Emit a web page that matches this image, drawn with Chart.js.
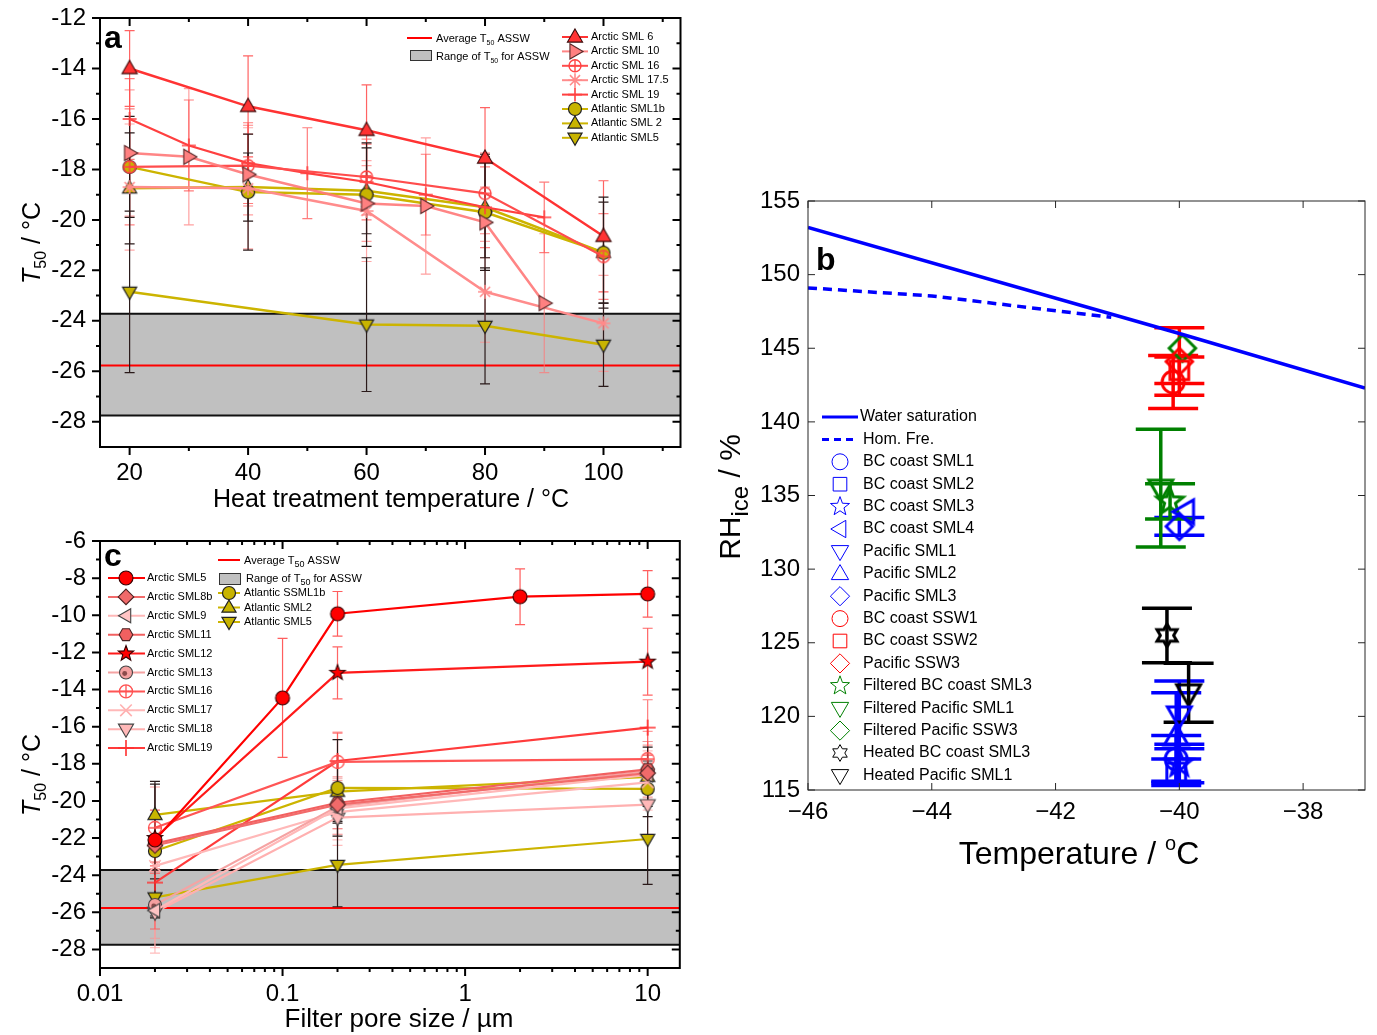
<!DOCTYPE html>
<html>
<head>
<meta charset="utf-8">
<script src="https://cdn.jsdelivr.net/npm/chart.js"></script>
<style>
html, body { margin: 0; padding: 0; background: #fff; }
#wrap { position: relative; width: 1377px; height: 1035px; overflow: hidden; }
#wrap canvas { position: absolute; }
</style>
</head>
<body>
<div id="wrap">
  <canvas id="chartA" width="690" height="520" style="left:0;top:0"></canvas>
  <canvas id="chartC" width="690" height="515" style="left:0;top:520px"></canvas>
  <canvas id="chartB" width="687" height="900" style="left:690px;top:0"></canvas>
</div>
<script>
const FONT = '"Liberation Sans", Arial, Helvetica, sans-serif';

// ---------- panel a : heat treatment ----------
const heatX = [20, 40, 60, 80, 100];
const heatX10 = [20, 30, 40, 60, 70, 80, 90];
const heatX19 = [20, 30, 40, 50, 60, 70, 80, 90];
const heatX5 = [20, 60, 80, 100];
const arcSml6 = [-14.0, -15.5, -16.45, -17.55, -20.65];
const arcSml6Err = [1.5, 2.0, 1.8, 2.0, 2.2];
const arcSml10 = [-17.35, -17.5, -18.2, -19.35, -19.45, -20.1, -23.3];
const arcSml10Err = [2.5, 2.7, 1.6, 1.5, 2.7, 1.4, 2.75];
const arcSml16 = [-17.9, -17.85, -18.3, -18.95, -21.45];
const arcSml16Err = [2.3, 1.6, 1.5, 1.6, 1.7];
const arcSml175 = [-18.7, -18.75, -19.65, -22.85, -24.1];
const arcSml175Err = [2.5, 2.4, 2.0, 2.0, 1.9];
const arcSml19 = [-16.0, -17.05, -17.75, -18.15, -18.5, -19.0, -19.5, -19.9];
const arcSml19Err = [1.6, 1.8, 1.6, 1.8, 1.5, 1.6, 1.6, 1.4];
const atlSml1b = [-17.9, -18.9, -19.0, -19.7, -21.3];
const atlSml1bErr = [2.0, 2.3, 2.05, 2.3, 2.0];
const atlSml2 = [-18.75, -18.7, -18.85, -19.5, -21.3];
const atlSml2Err = [2.2, 1.35, 1.7, 2.0, 2.2];
const atlSml5 = [-22.85, -24.15, -24.2, -24.95];
const atlSml5Err = [3.2, 2.65, 2.3, 1.65];
const aXTicks = [20, 40, 60, 80, 100];
const aYTicks = [-28, -26, -24, -22, -20, -18, -16, -14, -12];

// ---------- panel c : filtration ----------
const poreX = [0.02, 0.2, 10];
const poreX5 = [0.02, 0.1, 0.2, 2, 10];
const cSml5 = [-22.1, -14.45, -9.92, -9.0, -8.85];
const cSml5Err = [1.2, 3.2, 1.2, 1.5, 1.25];
const cSml8b = [-22.4, -20.2, -18.5];
const cSml8bErr = [1.5, 1.3, 1.5];
const cSml9 = [-25.9, -20.4, -18.6];
const cSml9Err = [2.0, 1.4, 1.3];
const cSml11 = [-22.3, -20.1, -18.3];
const cSml11Err = [1.6, 1.4, 1.5];
const cSml12 = [-22.0, -13.1, -12.5];
const cSml12Err = [1.5, 1.4, 1.8];
const cSml13 = [-25.6, -20.3, -18.4];
const cSml13Err = [1.8, 1.5, 1.6];
const cSml16 = [-21.45, -17.9, -17.75];
const cSml16Err = [2.2, 1.6, 1.5];
const cSml17 = [-23.5, -20.6, -19.0];
const cSml17Err = [2.5, 1.5, 1.5];
const cSml18 = [-26.0, -20.9, -20.2];
const cSml18Err = [2.2, 1.5, 1.6];
const cSml19 = [-24.4, -17.85, -16.05];
const cSml19Err = [2.5, 1.5, 1.5];
const cAtl1b = [-22.7, -19.3, -19.35];
const cAtl1bErr = [3.6, 2.6, 1.5];
const cAtl2 = [-20.75, -19.5, -18.7];
const cAtl2Err = [1.8, 1.6, 1.6];
const cAtl5 = [-25.2, -23.45, -22.05];
const cAtl5Err = [1.0, 2.25, 2.45];
const cXTicks = [0.01, 0.1, 1, 10];
const cYTicks = [-28, -26, -24, -22, -20, -18, -16, -14, -12, -10, -8, -6];

// ASSW reference values (panels a and c)
const asswAvg = -25.77;
const asswLow = -27.75;
const asswHigh = -23.72;

// ---------- panel b : RHice vs temperature ----------
const waterT = [-46, -40, -37];
const waterRH = [153.2, 146.0, 142.3];
const homT = [-46, -44, -41.1];
const homRH = [149.1, 148.55, 147.1];
const sampleNames = ['BC coast SML1', 'BC coast SML2', 'BC coast SML3', 'BC coast SML4',
  'Pacific SML1', 'Pacific SML2', 'Pacific SML3', 'BC coast SSW1', 'BC coast SSW2',
  'Pacific SSW3', 'Filtered BC coast SML3', 'Filtered Pacific SML1', 'Filtered Pacific SSW3',
  'Heated BC coast SML3', 'Heated Pacific SML1'];
const sampleT = [-40.05, -40.05, -40.0, -39.9, -40.0, -40.05, -40.0, -40.1, -40.0,
  -40.0, -40.15, -40.3, -39.95, -40.2, -39.85];
const sampleRH = [117.1, 116.2, 116.8, 133.9, 120.1, 118.6, 132.9, 142.7, 143.5,
  144.1, 134.6, 135.5, 145.0, 125.5, 121.6];
const sampleErr = [1.6, 0.9, 1.3, 0, 2.3, 3.0, 0.6, 1.8, 0.9, 2.3, 1.2, 4.0, 0, 1.85, 2.0];
const bXTicks = [-46, -44, -42, -40, -38];
const bYTicks = [115, 120, 125, 130, 135, 140, 145, 150, 155];

// marker styles for panel b (shape, colour)
const sampleShape = ['circle', 'square', 'star5', 'tri-left', 'tri-down', 'tri-up', 'diamond',
  'circle', 'square', 'diamond', 'star5', 'tri-down', 'diamond', 'hexagram', 'tri-down'];
const sampleColor = ['#0000FF', '#0000FF', '#0000FF', '#0000FF', '#0000FF', '#0000FF', '#0000FF',
  '#FF0000', '#FF0000', '#FF0000', '#008000', '#008000', '#008000', '#000000', '#000000'];

// ---------- drawing helpers ----------
function polyPath(g, x, y, n, r, rot) {
  for (let i = 0; i < n; i++) {
    const a = rot + i * 2 * Math.PI / n;
    const px = x + r * Math.cos(a), py = y + r * Math.sin(a);
    i ? g.lineTo(px, py) : g.moveTo(px, py);
  }
  g.closePath();
}
function starPath(g, x, y, n, ro, ri, rot) {
  for (let i = 0; i < 2 * n; i++) {
    const a = rot + i * Math.PI / n, rr = i % 2 ? ri : ro;
    const px = x + rr * Math.cos(a), py = y + rr * Math.sin(a);
    i ? g.lineTo(px, py) : g.moveTo(px, py);
  }
  g.closePath();
}
function drawMarker(g, m, x, y) {
  const r = m.r;
  g.save();
  g.lineWidth = m.lw || 1;
  g.strokeStyle = m.stroke;
  g.lineJoin = 'miter';
  g.beginPath();
  if (m.shape === 'plus' || m.shape === 'x' || m.shape === 'asterisk') {
    if (m.shape !== 'x') {
      g.moveTo(x - r, y); g.lineTo(x + r, y);
      g.moveTo(x, y - r); g.lineTo(x, y + r);
    }
    if (m.shape !== 'plus') {
      const d = r * 0.72;
      g.moveTo(x - d, y - d); g.lineTo(x + d, y + d);
      g.moveTo(x - d, y + d); g.lineTo(x + d, y - d);
    }
    g.stroke();
    g.restore();
    return;
  }
  switch (m.shape) {
    case 'square': g.rect(x - r * 0.85, y - r * 0.85, r * 1.7, r * 1.7); break;
    case 'diamond': polyPath(g, x, y, 4, r * 1.2, -Math.PI / 2); break;
    case 'tri-up': polyPath(g, x, y + r * 0.1, 3, r * 1.25, -Math.PI / 2); break;
    case 'tri-down': polyPath(g, x, y - r * 0.1, 3, r * 1.25, Math.PI / 2); break;
    case 'tri-left': polyPath(g, x + r * 0.1, y, 3, r * 1.25, Math.PI); break;
    case 'tri-right': polyPath(g, x - r * 0.1, y, 3, r * 1.25, 0); break;
    case 'hex': polyPath(g, x, y, 6, r * 1.05, 0); break;
    case 'star5': starPath(g, x, y, 5, r * 1.25, r * 0.52, -Math.PI / 2); break;
    case 'hexagram': starPath(g, x, y, 6, r * 1.05, r * 0.6, -Math.PI / 2); break;
    default: g.arc(x, y, r, 0, 2 * Math.PI);
  }
  if (m.fill) { g.fillStyle = m.fill; g.fill(); }
  g.stroke();
  if (m.shape === 'circplus') {
    g.beginPath();
    g.moveTo(x - r, y); g.lineTo(x + r, y);
    g.moveTo(x, y - r); g.lineTo(x, y + r);
    g.stroke();
  }
  if (m.shape === 'circdot') {
    g.beginPath();
    g.arc(x - r * 0.2, y + r * 0.15, r * 0.38, 0, 2 * Math.PI);
    g.fillStyle = '#8a4a4a';
    g.fill();
  }
  g.restore();
}
function markerImg(m) {
  const half = Math.ceil(m.r * 1.35 + (m.lw || 1) + 1);
  const c = document.createElement('canvas');
  c.width = c.height = half * 2;
  drawMarker(c.getContext('2d'), m, half, half);
  return c;
}
// text with sub/superscripts: parts [{t, s, dy, i, b}]
function rich(ctx, parts, x, y, align, rot) {
  ctx.save();
  ctx.translate(x, y);
  if (rot) ctx.rotate(rot);
  const fonts = parts.map(p => (p.i ? 'italic ' : '') + (p.b ? 'bold ' : '') + p.s + 'px ' + FONT);
  let w = 0;
  parts.forEach((p, k) => { ctx.font = fonts[k]; w += ctx.measureText(p.t).width; });
  let cx = align === 'left' ? 0 : -w / 2;
  ctx.fillStyle = '#000';
  ctx.textAlign = 'left';
  ctx.textBaseline = 'alphabetic';
  parts.forEach((p, k) => {
    ctx.font = fonts[k];
    ctx.fillText(p.t, cx, p.dy || 0);
    cx += ctx.measureText(p.t).width;
  });
  ctx.restore();
}
function hLine(ctx, x1, x2, y, color, w, dash) {
  ctx.save();
  ctx.strokeStyle = color; ctx.lineWidth = w;
  if (dash) ctx.setLineDash(dash);
  ctx.beginPath(); ctx.moveTo(x1, y); ctx.lineTo(x2, y); ctx.stroke();
  ctx.restore();
}
function label(ctx, txt, x, y, size) {
  ctx.save();
  ctx.font = size + 'px ' + FONT;
  ctx.fillStyle = '#000';
  ctx.textAlign = 'left';
  ctx.textBaseline = 'middle';
  ctx.fillText(txt, x, y);
  ctx.restore();
}

// ---------- plugins ----------
const bandPlugin = {
  id: 'asswBand',
  beforeDatasetsDraw(chart) {
    const { ctx, chartArea: ca } = chart;
    const y = chart.scales.y;
    const yTop = y.getPixelForValue(asswHigh), yBot = y.getPixelForValue(asswLow);
    const yAvg = y.getPixelForValue(asswAvg);
    ctx.save();
    ctx.fillStyle = '#C0C0C0';
    ctx.fillRect(ca.left, yTop, ca.right - ca.left, yBot - yTop);
    ctx.restore();
    hLine(ctx, ca.left, ca.right, yTop, '#111', 2);
    hLine(ctx, ca.left, ca.right, yBot, '#111', 2);
    hLine(ctx, ca.left, ca.right, yAvg, '#FF0000', 2);
  }
};

const errPlugin = {
  id: 'errBars',
  beforeDatasetsDraw(chart) {
    const ctx = chart.ctx, ys = chart.scales.y;
    chart.data.datasets.forEach((ds, i) => {
      if (!ds.err) return;
      const meta = chart.getDatasetMeta(i);
      ctx.save();
      ctx.strokeStyle = ds.errColor;
      ctx.lineWidth = ds.errWidth || 1.2;
      const c = ds.capW || 5;
      meta.data.forEach((pt, j) => {
        const e = ds.err[j];
        if (!e) return;
        const v = ds.data[j].y;
        const y1 = ys.getPixelForValue(v + e), y2 = ys.getPixelForValue(v - e);
        ctx.beginPath();
        ctx.moveTo(pt.x, y1); ctx.lineTo(pt.x, y2);
        ctx.moveTo(pt.x - c, y1); ctx.lineTo(pt.x + c, y1);
        ctx.moveTo(pt.x - c, y2); ctx.lineTo(pt.x + c, y2);
        ctx.stroke();
      });
      ctx.restore();
    });
  }
};

function linMinor(maj, s) {
  const out = [];
  if (maj.length < 2) return out;
  const step = maj[1] - maj[0];
  for (let v = maj[0] - step / 2; v < s.max; v += step) {
    if (v > s.min && v < s.max) out.push(v);
  }
  return out;
}
function logMinor(s) {
  const out = [];
  for (let e = -3; e <= 2; e++) {
    for (let k = 2; k <= 9; k++) {
      const v = k * Math.pow(10, e);
      if (v > s.min && v < s.max) out.push(v);
    }
  }
  return out;
}
function makeFrame(cfg) {
  return {
    id: 'frame',
    afterDraw(chart) {
      const { ctx, chartArea: ca } = chart;
      const xs = chart.scales.x, ys = chart.scales.y;
      ctx.save();
      ctx.strokeStyle = cfg.color;
      ctx.lineWidth = cfg.lw;
      ctx.strokeRect(ca.left, ca.top, ca.right - ca.left, ca.bottom - ca.top);
      const o = cfg.out ? 1 : -1;
      const xMaj = xs.ticks.map(t => t.value), yMaj = ys.ticks.map(t => t.value);
      const xMin = cfg.minor ? (cfg.xLog ? logMinor(xs) : linMinor(xMaj, xs)) : [];
      const yMin = cfg.minor ? linMinor(yMaj, ys) : [];
      ctx.beginPath();
      const doX = (vals, L) => vals.forEach(v => {
        const px = xs.getPixelForValue(v);
        ctx.moveTo(px, ca.bottom); ctx.lineTo(px, ca.bottom + o * L);
        ctx.moveTo(px, ca.top); ctx.lineTo(px, ca.top + L);
      });
      const doY = (vals, L) => vals.forEach(v => {
        const py = ys.getPixelForValue(v);
        ctx.moveTo(ca.left, py); ctx.lineTo(ca.left - o * L, py);
        ctx.moveTo(ca.right, py); ctx.lineTo(ca.right - L, py);
      });
      doX(xMaj, cfg.majLen); doX(xMin, cfg.minLen);
      doY(yMaj, cfg.majLen); doY(yMin, cfg.minLen);
      ctx.stroke();
      ctx.restore();
    }
  };
}

// ---------- dataset builder ----------
function series(label, xs, ys, errs, color, errColor, m, width) {
  return {
    label: label,
    data: xs.map((x, i) => ({ x: x, y: ys[i] })),
    err: errs,
    errColor: errColor,
    borderColor: color,
    backgroundColor: color,
    borderWidth: width || 2.2,
    showLine: true,
    fill: false,
    tension: 0,
    pointStyle: markerImg(m),
    pointRadius: m.r,
    mk: m
  };
}

function axisOpts(min, max, tickVals, fmt, size, pad, fitKey, fitVal, type) {
  return {
    type: type || 'linear',
    min: min, max: max,
    afterBuildTicks: s => { s.ticks = tickVals.map(v => ({ value: v })); },
    afterFit: s => {
      s[fitKey] = fitVal;
      // keep the plot area exactly where the layout padding puts it
      s.paddingTop = 0; s.paddingBottom = 0; s.paddingLeft = 0; s.paddingRight = 0;
    },
    grid: { display: false, drawTicks: false },
    border: { display: false },
    ticks: {
      autoSkip: false, maxRotation: 0, padding: pad, color: '#000',
      font: { size: size, family: FONT },
      callback: v => fmt(v)
    }
  };
}

Chart.defaults.font.family = FONT;
const plain = v => String(v);

// ================= panel a =================
const RED = '#FF3333', PINK = 'rgba(255,120,120,0.9)', OLIVE = '#CCB400', DARK = '#2a1a1a';
const olive = s => ({ shape: s, r: 6.5, fill: '#C8B400', stroke: '#222', lw: 1.2 });
const aSets = [
  series('Arctic SML 6', heatX, arcSml6, arcSml6Err, RED, 'rgba(255,60,60,0.8)',
    { shape: 'tri-up', r: 7, fill: '#F33', stroke: '#3a0a0a', lw: 1.1 }, 2.5),
  series('Arctic SML 10', heatX10, arcSml10, arcSml10Err, PINK, 'rgba(255,120,120,0.7)',
    { shape: 'tri-right', r: 7, fill: '#FF8080', stroke: '#5a2a2a', lw: 1.1 }, 2.5),
  series('Arctic SML 16', heatX, arcSml16, arcSml16Err, '#FF4D4D', 'rgba(255,80,80,0.7)',
    { shape: 'circplus', r: 6, fill: null, stroke: '#FF4444', lw: 1.4 }, 2.2),
  series('Arctic SML 17.5', heatX, arcSml175, arcSml175Err, '#FF8C8C', 'rgba(255,140,140,0.75)',
    { shape: 'asterisk', r: 7, stroke: '#FF8A8A', lw: 1.6 }, 2.5),
  series('Arctic SML 19', heatX19, arcSml19, arcSml19Err, '#FF4040', 'rgba(255,70,70,0.7)',
    { shape: 'plus', r: 7, stroke: '#FF4040', lw: 1.6 }, 2.2),
  series('Atlantic SML1b', heatX, atlSml1b, atlSml1bErr, OLIVE, DARK, olive('circle'), 2.5),
  series('Atlantic SML 2', heatX, atlSml2, atlSml2Err, OLIVE, DARK, olive('tri-up'), 2.5),
  series('Atlantic SML5', heatX5, atlSml5, atlSml5Err, OLIVE, DARK, olive('tri-down'), 2.5)
];

const decorA = {
  id: 'decorA',
  afterDraw(chart) {
    const ctx = chart.ctx;
    rich(ctx, [{ t: 'a', s: 32, b: true }], 104, 48, 'left');
    rich(ctx, [{ t: 'Heat treatment temperature / °C', s: 25 }], 391, 507);
    rich(ctx, [{ t: 'T', s: 25, i: true }, { t: '50', s: 16, dy: 6 }, { t: ' / °C', s: 25 }],
      40, 243, 'center', -Math.PI / 2);
    // legend, left block
    hLine(ctx, 407, 432, 38, '#FF0000', 2);
    rich(ctx, [{ t: 'Average T', s: 11 }, { t: '50', s: 7, dy: 3 }, { t: ' ASSW', s: 11 }], 436, 42, 'left');
    ctx.save();
    ctx.fillStyle = '#C0C0C0'; ctx.fillRect(410, 50, 21, 10);
    ctx.strokeStyle = '#333'; ctx.lineWidth = 1; ctx.strokeRect(410.5, 50.5, 21, 10);
    ctx.restore();
    rich(ctx, [{ t: 'Range of T', s: 11 }, { t: '50', s: 7, dy: 3 }, { t: ' for ASSW', s: 11 }], 436, 60, 'left');
    // legend, series block
    chart.data.datasets.forEach((ds, i) => {
      const y = 37 + i * 14.4;
      hLine(ctx, 562, 588, y, ds.borderColor, 2);
      drawMarker(ctx, ds.mk, 575, y);
      label(ctx, ds.label, 591, y, 11);
    });
  }
};

new Chart(document.getElementById('chartA'), {
  type: 'scatter',
  data: { datasets: aSets },
  options: {
    responsive: false, animation: false, events: [],
    layout: { padding: { top: 18, right: 7, left: 0, bottom: 0 } },
    plugins: { legend: { display: false }, tooltip: { enabled: false } },
    scales: {
      x: axisOpts(15, 113, aXTicks, plain, 24, 12, 'height', 73),
      y: axisOpts(-29, -12, aYTicks, plain, 24, 14, 'width', 100)
    }
  },
  plugins: [bandPlugin, errPlugin,
    makeFrame({ color: '#000', lw: 2, out: true, majLen: 8, minLen: 4, minor: true }), decorA]
});

// ================= panel c =================
const cm = (shape, fill, stroke, r) => ({ shape: shape, r: r || 6.5, fill: fill, stroke: stroke, lw: 1.1 });
const cSets = [
  series('Arctic SML5', poreX5, cSml5, cSml5Err, '#FF0000', 'rgba(255,40,40,0.75)', cm('circle', '#FF0000', '#300', 7), 2.2),
  series('Arctic SML8b', poreX, cSml8b, cSml8bErr, '#F26B6B', 'rgba(240,100,100,0.6)', cm('diamond', '#F06A6A', '#4a2222'), 2.2),
  series('Arctic SML9', poreX, cSml9, cSml9Err, '#FFB8B8', 'rgba(255,170,170,0.7)', cm('tri-left', '#FFC4C4', '#444'), 2.2),
  series('Arctic SML11', poreX, cSml11, cSml11Err, '#F26060', 'rgba(240,90,90,0.6)', cm('hex', '#F06060', '#4a2222'), 2.2),
  series('Arctic SML12', poreX, cSml12, cSml12Err, '#FF1A1A', 'rgba(255,50,50,0.75)', cm('star5', '#FF0000', '#300', 6.5), 2.2),
  series('Arctic SML13', poreX, cSml13, cSml13Err, '#F5A3A3', 'rgba(240,150,150,0.6)', cm('circdot', '#F4A0A0', '#444'), 2.2),
  series('Arctic SML16', poreX, cSml16, cSml16Err, '#FF5555', 'rgba(255,90,90,0.6)', { shape: 'circplus', r: 6.5, fill: null, stroke: '#FF5050', lw: 1.3 }, 2.2),
  series('Arctic SML17', poreX, cSml17, cSml17Err, '#FFB8B8', 'rgba(255,170,170,0.7)', { shape: 'x', r: 8, stroke: '#FFB0B0', lw: 1.6 }, 2.2),
  series('Arctic SML18', poreX, cSml18, cSml18Err, '#FFB0B0', 'rgba(255,160,160,0.7)', cm('tri-down', '#FFB8B8', '#444', 7), 2.2),
  series('Arctic SML19', poreX, cSml19, cSml19Err, '#FF3B3B', 'rgba(255,70,70,0.7)', { shape: 'plus', r: 8, stroke: '#FF3030', lw: 1.6 }, 2.2),
  series('Atlantic SSML1b', poreX, cAtl1b, cAtl1bErr, OLIVE, DARK, olive('circle'), 2.2),
  series('Atlantic SML2', poreX, cAtl2, cAtl2Err, OLIVE, DARK, olive('tri-up'), 2.2),
  series('Atlantic SML5', poreX, cAtl5, cAtl5Err, OLIVE, DARK, olive('tri-down'), 2.2)
];

const decorC = {
  id: 'decorC',
  afterDraw(chart) {
    const ctx = chart.ctx;
    rich(ctx, [{ t: 'c', s: 32, b: true }], 104, 46, 'left');
    rich(ctx, [{ t: 'Filter pore size / µm', s: 26 }], 399, 507);
    rich(ctx, [{ t: 'T', s: 25, i: true }, { t: '50', s: 16, dy: 6 }, { t: ' / °C', s: 25 }],
      40, 255, 'center', -Math.PI / 2);
    hLine(ctx, 218, 240, 40, '#FF0000', 2);
    rich(ctx, [{ t: 'Average T', s: 11 }, { t: '50', s: 9, dy: 3 }, { t: ' ASSW', s: 11 }], 244, 44, 'left');
    ctx.save();
    ctx.fillStyle = '#C0C0C0'; ctx.fillRect(219, 53, 21, 11);
    ctx.strokeStyle = '#333'; ctx.lineWidth = 1; ctx.strokeRect(219.5, 53.5, 21, 11);
    ctx.restore();
    rich(ctx, [{ t: 'Range of T', s: 11 }, { t: '50', s: 9, dy: 3 }, { t: ' for ASSW', s: 11 }], 246, 62, 'left');
    chart.data.datasets.forEach((ds, i) => {
      if (i < 10) {
        const y = 58 + i * 18.9;
        hLine(ctx, 108, 145, y, ds.borderColor, 2);
        drawMarker(ctx, ds.mk, 126, y);
        label(ctx, ds.label, 147, y, 11);
      } else {
        const y = 73 + (i - 10) * 14.5;
        hLine(ctx, 218, 240, y, ds.borderColor, 2);
        drawMarker(ctx, ds.mk, 229, y);
        label(ctx, ds.label, 244, y, 11);
      }
    });
  }
};

new Chart(document.getElementById('chartC'), {
  type: 'scatter',
  data: { datasets: cSets },
  options: {
    responsive: false, animation: false, events: [],
    layout: { padding: { top: 21, right: 10, left: 0, bottom: 0 } },
    plugins: { legend: { display: false }, tooltip: { enabled: false } },
    scales: {
      x: axisOpts(0.01, 15, cXTicks, plain, 24, 12, 'height', 67, 'logarithmic'),
      y: axisOpts(-29, -6, cYTicks, plain, 24, 14, 'width', 100)
    }
  },
  plugins: [bandPlugin, errPlugin,
    makeFrame({ color: '#000', lw: 2, out: true, majLen: 8, minLen: 4, minor: true, xLog: true }), decorC]
});

// ================= panel b =================
const bSets = [
  {
    label: 'Water saturation',
    data: waterT.map((t, i) => ({ x: t, y: waterRH[i] })),
    borderColor: '#0000FF', borderWidth: 3.5, showLine: true, pointRadius: 0, tension: 0
  },
  {
    label: 'Hom. Fre.',
    data: homT.map((t, i) => ({ x: t, y: homRH[i] })),
    borderColor: '#0000FF', borderWidth: 3.5, borderDash: [9, 6], showLine: true, pointRadius: 0, tension: 0
  }
];
sampleNames.forEach((name, i) => {
  const m = { shape: sampleShape[i], r: 11, fill: null, stroke: sampleColor[i], lw: 3 };
  bSets.push({
    label: name,
    data: [{ x: sampleT[i], y: sampleRH[i] }],
    err: [sampleErr[i]],
    errColor: sampleColor[i],
    errWidth: 3.5,
    capW: 25,
    showLine: false,
    borderColor: sampleColor[i],
    pointStyle: markerImg(m),
    pointRadius: m.r,
    mk: { shape: sampleShape[i], r: 8, fill: null, stroke: sampleColor[i], lw: 1 }
  });
});

const decorB = {
  id: 'decorB',
  afterDraw(chart) {
    const ctx = chart.ctx;
    rich(ctx, [{ t: 'b', s: 32, b: true }], 126, 270, 'left');
    rich(ctx, [{ t: 'Temperature / ', s: 32 }, { t: 'o', s: 20, dy: -14 }, { t: 'C', s: 32 }], 389, 864);
    rich(ctx, [{ t: 'RH', s: 30 }, { t: 'ice', s: 24, dy: 8 }, { t: ' / %', s: 30 }],
      50, 497, 'center', -Math.PI / 2);
    const ds = chart.data.datasets;
    const x0 = 132;
    hLine(ctx, x0, x0 + 36, 417, '#0000FF', 3);
    label(ctx, ds[0].label, 170, 417, 16);
    hLine(ctx, x0, x0 + 36, 439.4, '#0000FF', 3, [7, 5]);
    label(ctx, ds[1].label, 173, 439.4, 16);
    for (let i = 2; i < ds.length; i++) {
      const y = 417 + i * 22.4;
      drawMarker(ctx, ds[i].mk, 150, y);
      label(ctx, ds[i].label, 173, y, 16);
    }
  }
};

const minus = v => String(v).replace('-', '\u2212');
new Chart(document.getElementById('chartB'), {
  type: 'scatter',
  data: { datasets: bSets },
  options: {
    responsive: false, animation: false, events: [],
    layout: { padding: { top: 201, right: 12, left: 0, bottom: 0 } },
    plugins: { legend: { display: false }, tooltip: { enabled: false } },
    scales: {
      x: axisOpts(-46, -37, bXTicks, minus, 24, 8, 'height', 110),
      y: axisOpts(115, 155, bYTicks, plain, 24, 8, 'width', 118)
    }
  },
  plugins: [errPlugin,
    makeFrame({ color: '#262626', lw: 1, out: false, majLen: 7, minLen: 0, minor: false }), decorB]
});
</script>
</body>
</html>
